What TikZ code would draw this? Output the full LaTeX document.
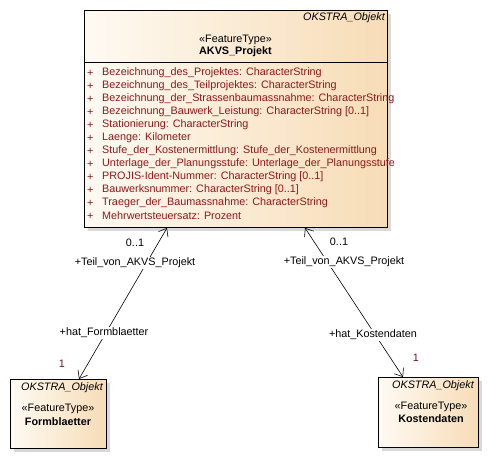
\documentclass[tikz,border=0pt]{standalone}
\usepackage{fontspec}
\setmainfont{Liberation Sans}
\usetikzlibrary{positioning,arrows.meta,shadows}
\definecolor{fillL}{HTML}{FEFAF3}
\definecolor{fillR}{HTML}{F7DCB6}
\definecolor{attrred}{HTML}{8B1A1A}
\definecolor{multred}{HTML}{6E1038}

\begin{document}
\begin{tikzpicture}[x=1pt, y=-1pt,
  font=\fontsize{10.8}{12}\selectfont,
  cls/.style={draw, line width=0.9pt, anchor=north west, inner sep=0pt,
    left color=fillL, right color=fillR,
    drop shadow={shadow xshift=4pt, shadow yshift=-4pt, fill=black!15, opacity=1}},
  assoc/.style={{Straight Barb[length=7pt,width=11pt]}-{Straight Barb[length=7pt,width=11pt]}, line width=0.6pt},
  base/.style={anchor=east, font=\fontsize{10.8}{12}\selectfont\itshape, inner sep=0pt},
  stereo/.style={inner sep=0pt},
  cname/.style={inner sep=0pt, font=\fontsize{10.8}{12}\selectfont\bfseries},
  attr/.style={anchor=west, text=attrred, inner sep=0pt},
  role/.style={fill=white, inner sep=1pt},
  mult/.style={inner sep=0pt}]
\useasboundingbox (0,0) rectangle (488,459);

% classes
\node[cls, minimum width=303pt, minimum height=217pt] (proj) at (84,10) {};
\node[cls, minimum width=96pt, minimum height=69pt] (form) at (10,379) {};
\node[cls, minimum width=100pt, minimum height=70pt] (kost) at (378,377) {};

% AKVS_Projekt
\draw[line width=0.9pt] (proj.west |- 0,62) -- (proj.east |- 0,62);
\node[base] (projBase) at (385,18) {OKSTRA\_Objekt};
\node[stereo] (projStereo) at (235.5,40) {«FeatureType»};
\node[cname] (projName) at (235.5,52) {AKVS\_Projekt};
\foreach \a [count=\i from 0] in {%
  {Bezeichnung\_des\_Projektes: CharacterString},
  {Bezeichnung\_des\_Teilprojektes: CharacterString},
  {Bezeichnung\_der\_Strassenbaumassnahme: CharacterString},
  {Bezeichnung\_Bauwerk\_Leistung: CharacterString [0..1]},
  {Stationierung: CharacterString},
  {Laenge: Kilometer},
  {Stufe\_der\_Kostenermittlung: Stufe\_der\_Kostenermittlung},
  {Unterlage\_der\_Planungsstufe: Unterlage\_der\_Planungsstufe},
  {PROJIS-Ident-Nummer: CharacterString [0..1]},
  {Bauwerksnummer: CharacterString [0..1]},
  {Traeger\_der\_Baumassnahme: CharacterString},
  {Mehrwertsteuersatz: Prozent}} {
  \node[attr] (plus\i) at (87,73+13*\i) {+};
  \node[attr] (attr\i) at (102,73+13*\i) {\a};
}

% Formblaetter
\node[base] (formBase) at (103,388) {OKSTRA\_Objekt};
\node[stereo] (formStereo) at (58,409) {«FeatureType»};
\node[cname] (formName) at (58,422) {Formblaetter};

% Kostendaten
\node[base] (kostBase) at (474,386) {OKSTRA\_Objekt};
\node[stereo] (kostStereo) at (431,407) {«FeatureType»};
\node[cname] (kostName) at (431,419) {Kostendaten};

% associations
\draw[assoc] ([xshift=83pt]proj.south west) -- ([xshift=69pt]form.north west);
\draw[assoc] ([xshift=221pt]proj.south west) -- ([xshift=25pt]kost.north west);

\node[mult] (m1) at (135,243) {0..1};
\node[role] (r1) at (135,263) {+Teil\_von\_AKVS\_Projekt};
\node[role] (r2) at (104,333) {+hat\_Formblaetter};
\node[mult, text=multred] (m2) at (62,364) {1};

\node[mult] (m3) at (339,242) {0..1};
\node[role] (r3) at (344,262) {+Teil\_von\_AKVS\_Projekt};
\node[role] (r4) at (373,335) {+hat\_Kostendaten};
\node[mult, text=multred] (m4) at (416,358) {1};
\end{tikzpicture}
\end{document}
